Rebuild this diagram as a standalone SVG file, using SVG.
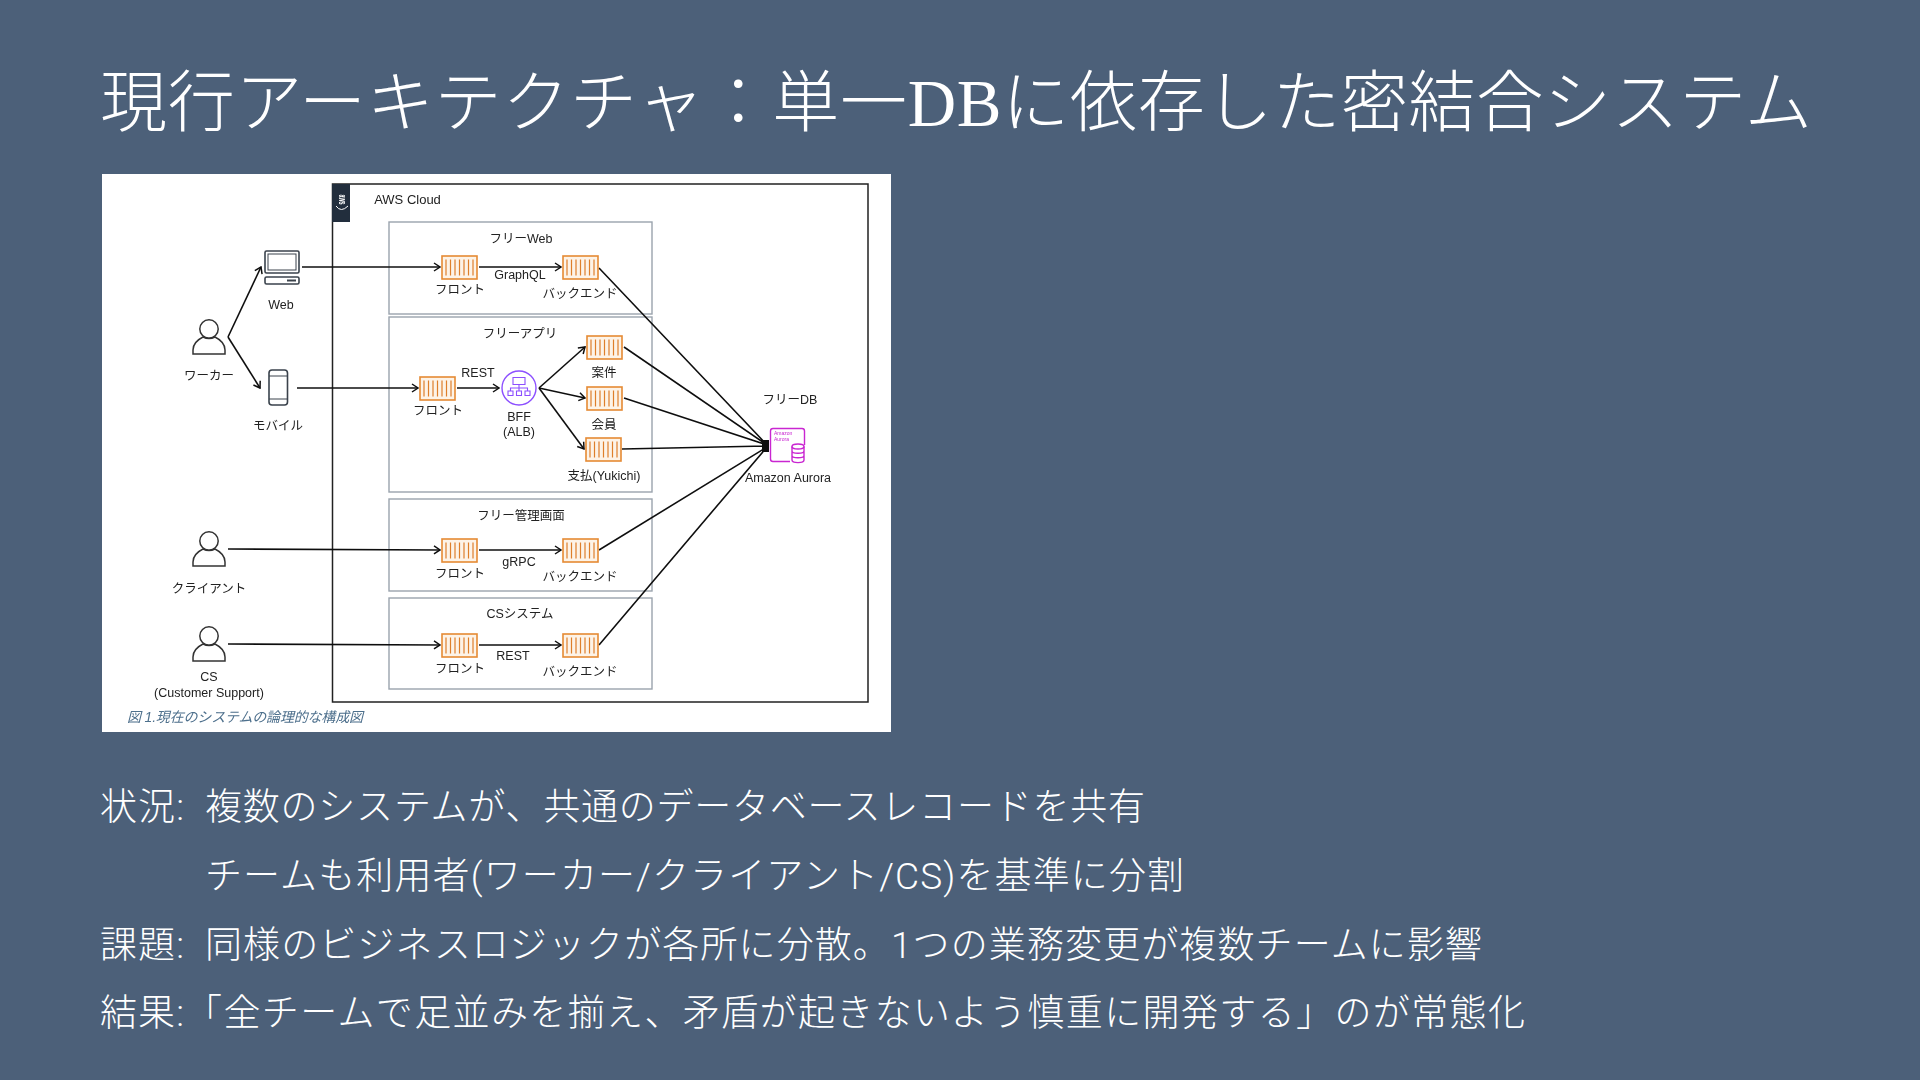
<svg xmlns="http://www.w3.org/2000/svg" width="1920" height="1080" viewBox="0 0 1920 1080">
<style>
.title{font-family:"Liberation Serif","Noto Sans CJK JP",serif;font-size:67px;font-weight:300;fill:#fff}
.body{font-family:Roboto,"Noto Sans CJK JP",sans-serif;font-size:37px;font-weight:300;fill:#fff}
.lb{font-family:"Liberation Sans","Noto Sans CJK JP",sans-serif;font-size:12.5px;fill:#222;text-anchor:middle;dominant-baseline:central}
.grp{fill:#fff;stroke:#9aa3ad;stroke-width:1.4}
.ln{fill:none;stroke:#111;stroke-width:1.6}
.ic{fill:none;stroke:#3a424c;stroke-width:1.6}
.person{fill:none;stroke:#333;stroke-width:1.5}
.alb{fill:none;stroke:#8c4fff;stroke-width:1.4}
.db{fill:none;stroke:#c925d1;stroke-width:1.4}
</style>
<defs>
<marker id="arr" viewBox="0 0 8 10" refX="7" refY="5" markerWidth="8" markerHeight="10" markerUnits="userSpaceOnUse" orient="auto"><path d="M1 1L7 5L1 9" fill="none" stroke="#111" stroke-width="1.5"/></marker>
<g id="ctr"><rect x="0" y="0" width="35" height="23" fill="#fdf3e7" stroke="#e58a33" stroke-width="1.6"/><path d="M4 3.5V19.5M8.5 3.5V19.5M13 3.5V19.5M17.5 3.5V19.5M22 3.5V19.5M26.5 3.5V19.5M31 3.5V19.5" stroke="#de7f2c" stroke-width="1.2" fill="none"/></g>
<g id="prs" class="person"><circle cx="0" cy="0" r="9.2"/><path d="M-16 25V21C-16 14-10 10-6 8C-2 10 2 10 6 8C10 10 16 14 16 21V25Z"/></g>
<filter id="soft" x="0" y="0" width="1" height="1"><feGaussianBlur stdDeviation="0.4"/></filter>
</defs>
<rect id="bg" width="1920" height="1080" fill="#4c6079"/>
<text class="title" x="100" y="126" textLength="1712" lengthAdjust="spacing">現行アーキテクチャ：単一DBに依存した密結合システム</text>
<g id="figure" filter="url(#soft)">
<rect x="102" y="174" width="789" height="558" fill="#fff"/>
<g id="cloud"><rect x="332.500" y="184" width="535.500" height="518" fill="none" stroke="#222" stroke-width="1.5"/><rect x="332" y="184" width="18" height="38" fill="#232f3e"/>
<text x="342" y="199.500" font-family="Liberation Sans,sans-serif" font-size="10" font-weight="700" fill="#fff" text-anchor="middle" dominant-baseline="central" textLength="10" lengthAdjust="spacingAndGlyphs" transform="rotate(90 342 199.500)">aws</text><path d="M336 206Q341 213 348 206" fill="none" stroke="#fff" stroke-width="1"/>
<text class="lb" x="407.500" y="199" style="font-size:13px">AWS Cloud</text></g>
<g id="group-web"><rect class="grp" x="389" y="222" width="263" height="92"/><text class="lb" x="521" y="239">フリーWeb</text></g>
<g id="group-app"><rect class="grp" x="389" y="317" width="263" height="175"/><text class="lb" x="520" y="334">フリーアプリ</text></g>
<g id="group-admin"><rect class="grp" x="389" y="499" width="263" height="92"/><text class="lb" x="521" y="516">フリー管理画面</text></g>
<g id="group-cs"><rect class="grp" x="389" y="598" width="263" height="91"/><text class="lb" x="520" y="614">CSシステム</text></g>
<g id="connectors">
<path class="ln" marker-end="url(#arr)" d="M228 337L261 267"/>
<path class="ln" marker-end="url(#arr)" d="M228 337L260 388"/>
<path class="ln" marker-end="url(#arr)" d="M302 267H440"/>
<path class="ln" marker-end="url(#arr)" d="M297 388H418"/>
<path class="ln" marker-end="url(#arr)" d="M479 267H561"/>
<path class="ln" marker-end="url(#arr)" d="M457 388H499"/>
<path class="ln" marker-end="url(#arr)" d="M539 388L585 347"/>
<path class="ln" marker-end="url(#arr)" d="M539 388L585 398"/>
<path class="ln" marker-end="url(#arr)" d="M539 388L584 449"/>
<path class="ln" marker-end="url(#arr)" d="M228 549L440 550"/>
<path class="ln" marker-end="url(#arr)" d="M228 644L440 645"/>
<path class="ln" marker-end="url(#arr)" d="M479 550H561"/>
<path class="ln" marker-end="url(#arr)" d="M479 645H561"/>
<path class="ln" d="M599 268L767 445M624 347L767 445M624 398L767 445M622 449L767 446M599 550L767 447M599 645L767 447"/>
<rect x="762" y="440" width="7" height="12" fill="#111"/>
</g>
<g id="worker"><use href="#prs" x="209" y="329"/><text class="lb" x="209" y="376">ワーカー</text></g>
<g id="client"><use href="#prs" x="209" y="541"/><text class="lb" x="209" y="589">クライアント</text></g>
<g id="cs"><use href="#prs" x="209" y="636"/><text class="lb" x="209" y="677">CS</text><text class="lb" x="209" y="693">(Customer Support)</text></g>
<g id="web"><rect class="ic" x="265" y="251" width="34" height="22" rx="1.500"/><rect class="ic" x="268" y="254" width="28" height="16" style="stroke-width:1"/><rect class="ic" x="265" y="277" width="34" height="7" rx="1.500"/><path d="M287 280.500H296" stroke="#3a424c" stroke-width="2"/><text class="lb" x="281" y="305">Web</text></g>
<g id="mobile"><rect class="ic" x="269" y="370" width="18.500" height="35" rx="3"/><path class="ic" d="M269 376H287.500M269 399H287.500" style="stroke-width:1"/><text class="lb" x="278" y="426">モバイル</text></g>
<g id="web-front"><use href="#ctr" x="442" y="256"/><text class="lb" x="460" y="290">フロント</text></g>
<g id="web-back"><use href="#ctr" x="563" y="256"/><text class="lb" x="580" y="294">バックエンド</text></g>
<text class="lb" x="520" y="275">GraphQL</text>
<g id="app-front"><use href="#ctr" x="420" y="377"/><text class="lb" x="438" y="411">フロント</text></g>
<text class="lb" x="478" y="373">REST</text>
<g id="bff"><circle class="alb" cx="519" cy="388" r="17"/><path class="alb" d="M513 377.500H525V384.500H513ZM519 384.500V388M510.500 391V388H527.500V391M519 388V391" style="stroke-width:1.1"/><path class="alb" d="M508 391h5v4.500h-5ZM516.500 391h5v4.500h-5ZM525 391h5v4.500h-5Z" style="stroke-width:1.1"/><text class="lb" x="519" y="417">BFF</text><text class="lb" x="519" y="432">(ALB)</text></g>
<g id="anken"><use href="#ctr" x="587" y="336"/><text class="lb" x="604" y="373">案件</text></g>
<g id="kaiin"><use href="#ctr" x="587" y="387"/><text class="lb" x="604" y="425">会員</text></g>
<g id="shiharai"><use href="#ctr" x="586" y="438"/><text class="lb" x="604" y="476">支払(Yukichi)</text></g>
<g id="admin-front"><use href="#ctr" x="442" y="539"/><text class="lb" x="460" y="574">フロント</text></g>
<g id="admin-back"><use href="#ctr" x="563" y="539"/><text class="lb" x="580" y="577">バックエンド</text></g>
<text class="lb" x="519" y="562">gRPC</text>
<g id="cs-front"><use href="#ctr" x="442" y="634"/><text class="lb" x="460" y="669">フロント</text></g>
<g id="cs-back"><use href="#ctr" x="563" y="634"/><text class="lb" x="580" y="672">バックエンド</text></g>
<text class="lb" x="513" y="656">REST</text>
<g id="aurora"><text class="lb" x="790" y="400">フリーDB</text><path class="db" d="M790 461.500H773Q770.500 461.500 770.500 459V431Q770.500 428.500 773 428.500H802Q804.500 428.500 804.500 431V445"/><ellipse class="db" cx="798" cy="446.500" rx="6" ry="2.500" fill="#fff"/><path class="db" d="M792 446.500V460C792 463.500 804 463.500 804 460V446.500M792 451C792 454 804 454 804 451M792 455.500C792 458.500 804 458.500 804 455.500"/><text x="774" y="435" font-family="Liberation Sans,sans-serif" font-size="5" fill="#c925d1">Amazon</text><text x="774" y="441" font-family="Liberation Sans,sans-serif" font-size="5" fill="#c925d1">Aurora</text><text class="lb" x="788" y="478">Amazon Aurora</text></g>
<text id="caption" x="127" y="722" font-family="Liberation Sans,Noto Sans CJK JP,sans-serif" font-size="14" font-style="italic" fill="#4d6f8c" textLength="236">図 1.現在のシステムの論理的な構成図</text>
</g>
<g id="notes">
<text class="body" x="100" y="820" textLength="84" lengthAdjust="spacing">状況:</text>
<text class="body" x="205" y="820" textLength="940" lengthAdjust="spacing">複数のシステムが、共通のデータベースレコードを共有</text>
<text class="body" x="205" y="889" textLength="979" lengthAdjust="spacing">チームも利用者(ワーカー/クライアント/CS)を基準に分割</text>
<text class="body" x="100" y="958" textLength="84" lengthAdjust="spacing">課題:</text>
<text class="body" x="205" y="958" textLength="1277" lengthAdjust="spacing">同様のビジネスロジックが各所に分散。1つの業務変更が複数チームに影響</text>
<text class="body" x="100" y="1026" textLength="84" lengthAdjust="spacing">結果:</text>
<text class="body" x="185" y="1026" textLength="1340" lengthAdjust="spacing">「全チームで足並みを揃え、矛盾が起きないよう慎重に開発する」のが常態化</text>
</g>
</svg>
